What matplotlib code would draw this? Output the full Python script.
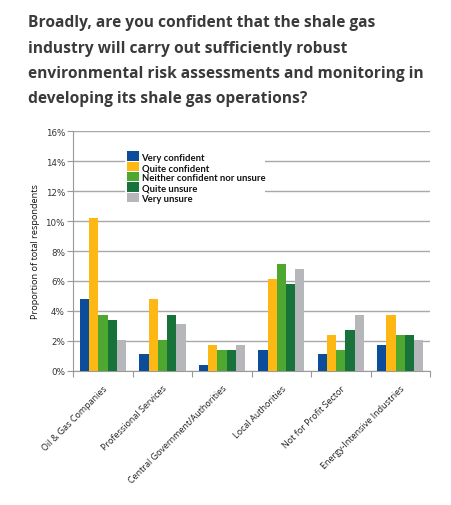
import matplotlib
matplotlib.use("Agg")
import matplotlib.pyplot as plt
from matplotlib.patches import Rectangle
import numpy as np

categories = ["Oil & Gas Companies", "Professional Services", "Central Government/Authorities",
              "Local Authorities", "Not for Profit Sector", "Energy-Intensive Industries"]
series_names = ["Very confident", "Quite confident", "Neither confident nor unsure",
                "Quite unsure", "Very unsure"]
very_confident = [4.8, 1.1, 0.4, 1.4, 1.1, 1.75]
quite_confident = [10.2, 4.8, 1.75, 6.1, 2.4, 3.75]
neither = [3.75, 2.05, 1.4, 7.15, 1.4, 2.4]
quite_unsure = [3.4, 3.75, 1.4, 5.8, 2.75, 2.4]
very_unsure = [2.05, 3.1, 1.75, 6.8, 3.75, 2.05]
y_ticks = [0, 2, 4, 6, 8, 10, 12, 14, 16]
y_tick_labels = ["0%", "2%", "4%", "6%", "8%", "10%", "12%", "14%", "16%"]

colors = ["#0B4C9B", "#FDB813", "#4EA72E", "#18733A", "#B6B7BB"]
series = [very_confident, quite_confident, neither, quite_unsure, very_unsure]

W, H = 451, 506
fig = plt.figure(figsize=(W / 100, H / 100), dpi=100)
ax = fig.add_axes([0.1626, 0.2654, 0.9534 - 0.1626, 0.7385 - 0.2654])

x = np.arange(len(categories))
w = 0.155
for i, (vals, c, name) in enumerate(zip(series, colors, series_names)):
    ax.bar(x + (i - 2) * w, vals, width=w, color=c, edgecolor="none", label=name, zorder=3)

ax.set_xlim(-0.5, len(categories) - 0.5)
ax.set_ylim(0, 16)
ax.set_yticks(y_ticks)
ax.set_yticklabels(y_tick_labels, fontsize=6.3, color="#333333", family="DejaVu Sans")
ax.yaxis.grid(True, color="#A8A8A8", linewidth=1.0, zorder=0)
ax.set_axisbelow(True)

ax.set_xticks(np.arange(len(categories) + 1) - 0.5)
ax.set_xticklabels([])
ax.set_xticks(x, minor=True)
ax.set_xticklabels(categories, minor=True, rotation=45, ha="right", rotation_mode="anchor",
                   fontsize=6.5, color="#222222", family="Open Sans")
ax.tick_params(axis="x", which="minor", length=0, pad=9)
ax.tick_params(axis="x", which="major", length=4, color="#999999", width=0.8)
ax.tick_params(axis="y", length=4, color="#999999", width=0.8, pad=2)

for s in ["top", "right"]:
    ax.spines[s].set_visible(False)
for s in ["left", "bottom"]:
    ax.spines[s].set_color("#999999")
    ax.spines[s].set_linewidth(0.8)

ax.set_ylabel("Proportion of total respondents", fontsize=6.6, color="#111111",
              family="Open Sans", labelpad=4)

# legend drawn manually (pixel layout converted to figure fractions)
def fx(px):
    return px / W

def fy(py):
    return 1 - py / H

fig.patches.append(Rectangle((fx(125), fy(205)), fx(265) - fx(125), fy(150) - fy(205),
                             transform=fig.transFigure, facecolor="white", edgecolor="none",
                             zorder=4))
sq_left, sq_top, sq_w, sq_h = 127.3, 152.3, 11.2, 9.4
for i, (name, c) in enumerate(zip(series_names, colors)):
    top = sq_top + i * (sq_h + 0.9)
    fig.patches.append(Rectangle((fx(sq_left), fy(top + sq_h)), sq_w / W, sq_h / H,
                                 transform=fig.transFigure, facecolor=c, edgecolor="none",
                                 zorder=5))
    fig.text(fx(141.5), fy(top + sq_h / 2 + 0.3), name, ha="left", va="center_baseline",
             fontsize=6.8, fontweight="bold", family="Lato", color="#111111", zorder=6)

fig.text(0.062, 0.970,
         "Broadly, are you confident that the shale gas\n"
         "industry will carry out sufficiently robust\n"
         "environmental risk assessments and monitoring in\n"
         "developing its shale gas operations?",
         ha="left", va="top", fontsize=11.2, fontweight="bold", color="#3A3A3A",
         family="Open Sans", linespacing=1.78)

fig.savefig("out.png", dpi=100, facecolor="white")
